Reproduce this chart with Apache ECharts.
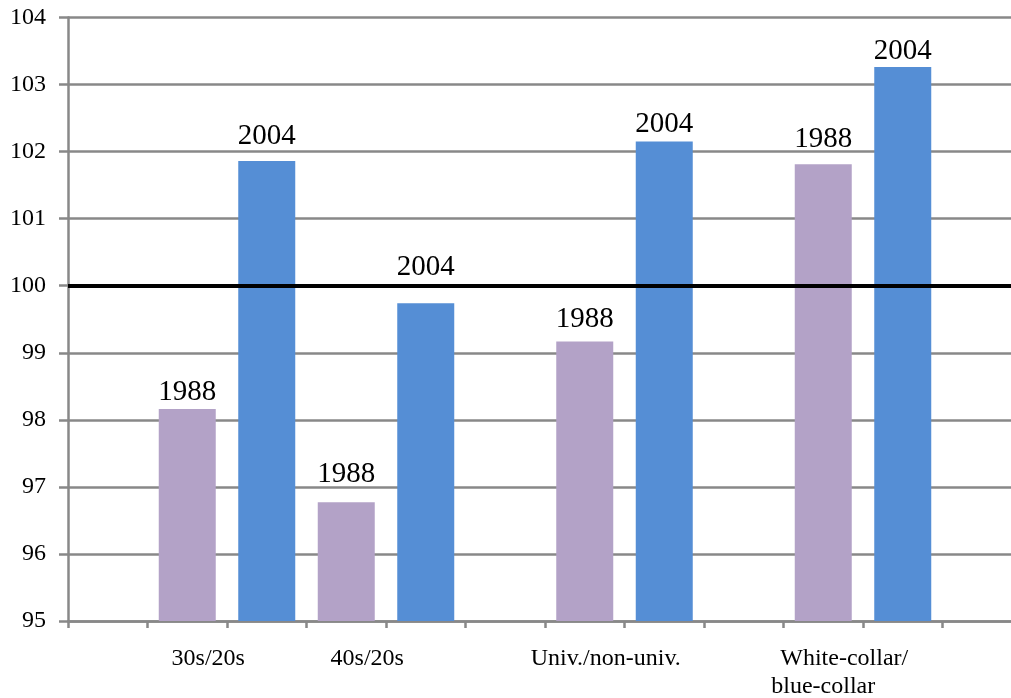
<!DOCTYPE html>
<html><head><meta charset="utf-8">
<script src="https://cdn.jsdelivr.net/npm/echarts/dist/echarts.min.js"></script>
<style>html,body{margin:0;padding:0;background:#fff}#c{width:1011px;height:698px}</style>
</head><body><div id="c"></div>
<script>
// ---- data ----
const categories = ['', '30s/20s', '', '40s/20s', '', '', 'Univ./non-univ.', '', '', 'White-collar/\nblue-collar', '', ''];
const values1988 = [null, 98.16, null, 96.77, null, null, 99.17, null, null, 101.81, null, null];
const values2004 = [null, null, 101.86, null, 99.74, null, null, 102.15, null, null, 103.26, null];
const seriesNames = ['1988', '2004'];
const referenceValue = 100;
const yMin = 95, yMax = 104, yStep = 1;

// ---- style ----
const FONT = "'Liberation Serif', 'Times New Roman', serif";
const GRAY = '#888888';
const labelGap1988 = [8, 18.7, 13, 16];
const labelGap2004 = [15.5, 27, 8, 7];

function buildSeriesData(values, gaps) {
  let k = 0;
  return values.map(v => {
    if (v == null) return '-';
    const g = gaps[k++];
    return { value: v, label: { distance: g - 5.5 } };
  });
}

const labelStyle = { show: true, position: 'top', formatter: '{a}', fontSize: 29, fontFamily: FONT, color: '#000' };

const chart = echarts.init(document.getElementById('c'), null, { renderer: 'canvas' });
chart.setOption({
  animation: false,
  backgroundColor: '#ffffff',
  grid: { left: 68, top: 17.5, width: 954, bottom: 77, outerBoundsMode: 'none', containLabel: false },
  xAxis: {
    type: 'category',
    data: categories,
    boundaryGap: true,
    axisLine: { lineStyle: { color: GRAY, width: 2.5 } },
    axisTick: { show: true, interval: 0, length: 7, lineStyle: { color: GRAY, width: 2.5 } },
    axisLabel: {
      interval: 0,
      margin: 24,
      hideOverlap: false,
      formatter: function (v) {
        if (!v) return '';
        return v.split('\n').map((l, i) => (i === 0 ? '{s|' + l + '}' : '{n|' + l + '}')).join('\n');
      },
      rich: {
        s: { fontSize: 24, fontFamily: FONT, color: '#000', lineHeight: 28, padding: [0, 0, 0, 42] },
        n: { fontSize: 24, fontFamily: FONT, color: '#000', lineHeight: 28 }
      }
    },
    splitLine: { show: false }
  },
  yAxis: {
    type: 'value',
    min: yMin, max: yMax, interval: yStep,
    axisLine: { show: true, lineStyle: { color: GRAY, width: 2.5 } },
    axisTick: { show: true, length: 9, lineStyle: { color: GRAY, width: 2.5 } },
    axisLabel: { fontSize: 24, fontFamily: FONT, color: '#000', margin: 22 },
    splitLine: { show: true, lineStyle: { color: GRAY, width: 2.5 } }
  },
  series: [
    {
      name: seriesNames[0], type: 'bar', barWidth: 57, barGap: '-100%',
      itemStyle: { color: '#B3A2C7' },
      label: labelStyle,
      data: buildSeriesData(values1988, labelGap1988)
    },
    {
      name: seriesNames[1], type: 'bar', barWidth: 57, barGap: '-100%',
      itemStyle: { color: '#558ED5' },
      label: labelStyle,
      data: buildSeriesData(values2004, labelGap2004),
      markLine: {
        silent: true, symbol: 'none', label: { show: false },
        lineStyle: { color: '#000', width: 4, type: 'solid' },
        data: [{ yAxis: referenceValue }]
      }
    }
  ]
});
</script>
</body></html>
